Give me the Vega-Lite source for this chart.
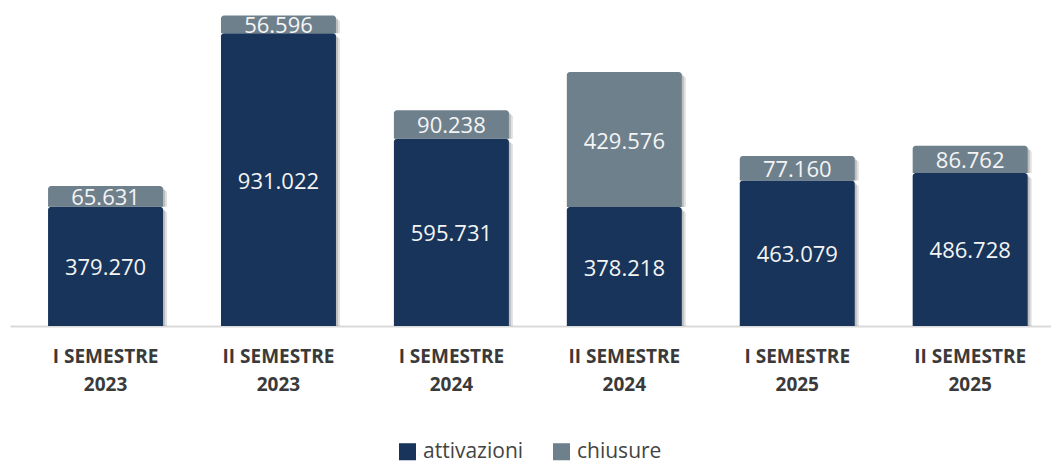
{
  "$schema": "https://vega.github.io/schema/vega-lite/v6.json",
  "width": 1041,
  "height": 326,
  "autosize": "none",
  "padding": {"left": 10, "top": 0, "right": 0, "bottom": 138},
  "background": "white",
  "config": {
    "locale": {"number": {"decimal": ",", "thousands": ".", "grouping": [3], "currency": ["", " €"]}},
    "view": {"stroke": null},
    "font": "Open Sans"
  },
  "data": {
    "values": [
      {"semestre": "I SEMESTRE 2023", "tipo": "attivazioni", "valore": 379270},
      {"semestre": "I SEMESTRE 2023", "tipo": "chiusure", "valore": 65631},
      {"semestre": "II SEMESTRE 2023", "tipo": "attivazioni", "valore": 931022},
      {"semestre": "II SEMESTRE 2023", "tipo": "chiusure", "valore": 56596},
      {"semestre": "I SEMESTRE 2024", "tipo": "attivazioni", "valore": 595731},
      {"semestre": "I SEMESTRE 2024", "tipo": "chiusure", "valore": 90238},
      {"semestre": "II SEMESTRE 2024", "tipo": "attivazioni", "valore": 378218},
      {"semestre": "II SEMESTRE 2024", "tipo": "chiusure", "valore": 429576},
      {"semestre": "I SEMESTRE 2025", "tipo": "attivazioni", "valore": 463079},
      {"semestre": "I SEMESTRE 2025", "tipo": "chiusure", "valore": 77160},
      {"semestre": "II SEMESTRE 2025", "tipo": "attivazioni", "valore": 486728},
      {"semestre": "II SEMESTRE 2025", "tipo": "chiusure", "valore": 86762}
    ]
  },
  "transform": [
    {"stack": "valore", "groupby": ["semestre"], "sort": [{"field": "tipo", "order": "ascending"}], "as": ["v0", "v1"]},
    {"calculate": "(datum.v0 + datum.v1) / 2", "as": "vm"}
  ],
  "encoding": {
    "x": {
      "field": "semestre",
      "type": "nominal",
      "sort": null,
      "scale": {"paddingInner": 0.335, "paddingOuter": 0.1775, "align": 0.62},
      "axis": {
        "title": null,
        "labelAngle": 0,
        "ticks": false,
        "domainColor": "#d9d9d9",
        "domainWidth": 2,
        "labelFont": "Open Sans",
        "labelFontSize": 19,
        "labelFontWeight": "bold",
        "labelColor": "#3a3a3a",
        "labelPadding": 21,
        "labelLineHeight": 28,
        "labelExpr": "[slice(datum.label, 0, lastindexof(datum.label, ' ')), slice(datum.label, lastindexof(datum.label, ' ') + 1)]"
      }
    }
  },
  "layer": [
    {
      "mark": {"type": "bar", "color": "#000000", "opacity": 0.12, "xOffset": 4, "yOffset": 4, "cornerRadiusTopLeft": 3, "cornerRadiusTopRight": 3},
      "encoding": {
        "y": {"field": "v1", "type": "quantitative", "scale": {"domain": [0, 1036680], "nice": false}, "axis": null},
        "y2": {"field": "v0"}
      }
    },
    {
      "mark": {"type": "bar", "color": "#000000", "opacity": 0.15, "xOffset": 2, "yOffset": 2, "cornerRadiusTopLeft": 3, "cornerRadiusTopRight": 3},
      "encoding": {
        "y": {"field": "v1", "type": "quantitative"},
        "y2": {"field": "v0"}
      }
    },
    {
      "mark": {"type": "bar", "cornerRadiusTopLeft": 3, "cornerRadiusTopRight": 3},
      "encoding": {
        "y": {"field": "v1", "type": "quantitative"},
        "y2": {"field": "v0"},
        "color": {
          "field": "tipo",
          "type": "nominal",
          "scale": {"domain": ["attivazioni", "chiusure"], "range": ["#18345a", "#6f808d"]},
          "legend": {
            "title": null,
            "orient": "none",
            "direction": "horizontal",
            "legendX": 387,
            "legendY": 441,
            "symbolType": "square",
            "symbolSize": 290,
            "symbolStrokeWidth": 0,
            "symbolOpacity": 1,
            "labelFont": "Open Sans",
            "labelFontSize": 21,
            "labelColor": "#444444",
            "labelOffset": 5,
            "columnPadding": 27
          }
        }
      }
    },
    {
      "mark": {"type": "text", "color": "#f4f4f4", "fontSize": 22, "font": "Open Sans", "baseline": "middle", "align": "center", "dy": 2},
      "encoding": {
        "y": {"field": "vm", "type": "quantitative"},
        "text": {"field": "valore", "type": "quantitative", "format": ",.0f"}
      }
    }
  ]
}
